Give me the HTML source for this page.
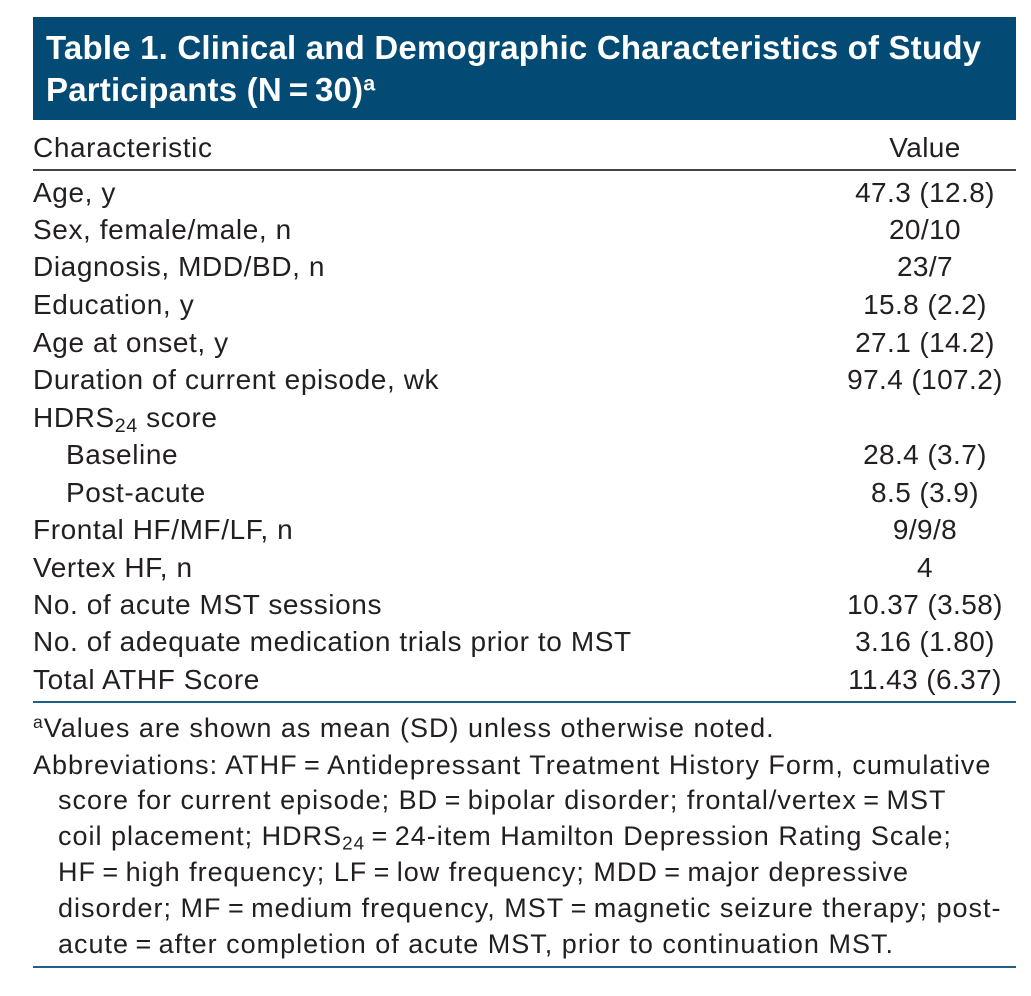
<!DOCTYPE html>
<html><head><meta charset="utf-8"><style>
body{margin:0;width:1031px;height:996px;background:#fff;position:relative;overflow:hidden;font-family:"Liberation Sans",sans-serif;color:#231f20}
.hd{position:absolute;left:33px;top:17px;width:983px;height:103px;background:#034a75}
.t{position:absolute;left:46px;color:#fff;font-weight:bold;font-size:33px;letter-spacing:0.2px;line-height:40px;white-space:nowrap}
.r{position:absolute;left:33px;height:36px;line-height:36px;font-size:28px;letter-spacing:0.6px;white-space:nowrap}
.v{position:absolute;left:820px;width:210px;text-align:center;height:36px;line-height:36px;font-size:28px;letter-spacing:0.4px;white-space:nowrap}
.f{position:absolute;left:33px;height:36px;line-height:36px;font-size:27px;letter-spacing:1px;white-space:nowrap}
.ln{position:absolute;left:33px;width:983px}
sub{font-size:0.7em;vertical-align:-0.25em;line-height:0}
sup{font-size:0.65em;vertical-align:0.5em;line-height:0}
</style></head><body>
<div class="hd"></div>
<div class="t" style="top:28px">Table 1. Clinical and Demographic Characteristics of Study</div>
<div class="t" style="top:70px">Participants (N&#8201;=&#8201;30)<sup>a</sup></div>
<div class="r" style="top:130px">Characteristic</div><div class="v" style="top:130px">Value</div>
<div class="ln" style="top:169px;height:2px;background:#444"></div>
<div class="r" style="top:175px">Age, y</div><div class="v" style="top:175px">47.3 (12.8)</div>
<div class="r" style="top:212px">Sex, female/male, n</div><div class="v" style="top:212px">20/10</div>
<div class="r" style="top:249px">Diagnosis, MDD/BD, n</div><div class="v" style="top:249px">23/7</div>
<div class="r" style="top:287px">Education, y</div><div class="v" style="top:287px">15.8 (2.2)</div>
<div class="r" style="top:325px">Age at onset, y</div><div class="v" style="top:325px">27.1 (14.2)</div>
<div class="r" style="top:362px">Duration of current episode, wk</div><div class="v" style="top:362px">97.4 (107.2)</div>
<div class="r" style="top:400px">HDRS<sub>24</sub> score</div>
<div class="r" style="top:437px;left:66px">Baseline</div><div class="v" style="top:437px">28.4 (3.7)</div>
<div class="r" style="top:475px;left:66px">Post-acute</div><div class="v" style="top:475px">8.5 (3.9)</div>
<div class="r" style="top:512px">Frontal HF/MF/LF, n</div><div class="v" style="top:512px">9/9/8</div>
<div class="r" style="top:550px">Vertex HF, n</div><div class="v" style="top:550px">4</div>
<div class="r" style="top:587px">No. of acute MST sessions</div><div class="v" style="top:587px">10.37 (3.58)</div>
<div class="r" style="top:624px">No. of adequate medication trials prior to MST</div><div class="v" style="top:624px">3.16 (1.80)</div>
<div class="r" style="top:662px">Total ATHF Score</div><div class="v" style="top:662px">11.43 (6.37)</div>
<div class="ln" style="top:701px;height:2px;background:#1f5f8b"></div>
<div class="f" style="top:710px"><sup>a</sup>Values are shown as mean (SD) unless otherwise noted.</div>
<div class="f" style="top:747px">Abbreviations: ATHF&#8201;=&#8201;Antidepressant Treatment History Form, cumulative</div>
<div class="f" style="top:782px;left:58px">score for current episode; BD&#8201;=&#8201;bipolar disorder; frontal/vertex&#8201;=&#8201;MST</div>
<div class="f" style="top:818px;left:58px">coil placement; HDRS<sub>24</sub>&#8201;=&#8201;24-item Hamilton Depression Rating Scale;</div>
<div class="f" style="top:854px;left:58px">HF&#8201;=&#8201;high frequency; LF&#8201;=&#8201;low frequency; MDD&#8201;=&#8201;major depressive</div>
<div class="f" style="top:890px;left:58px">disorder; MF&#8201;=&#8201;medium frequency, MST&#8201;=&#8201;magnetic seizure therapy; post-</div>
<div class="f" style="top:926px;left:58px">acute&#8201;=&#8201;after completion of acute MST, prior to continuation MST.</div>
<div class="ln" style="top:966px;height:2px;background:#1f5f8b"></div>
</body></html>
